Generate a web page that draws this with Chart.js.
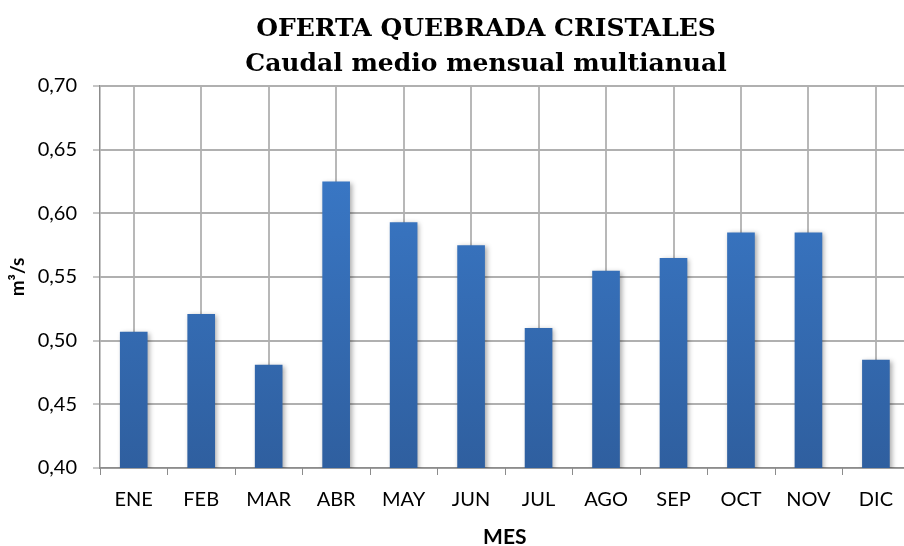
<!DOCTYPE html>
<html>
<head>
<meta charset="utf-8">
<script src="https://cdn.jsdelivr.net/npm/chart.js@4.4.1/dist/chart.umd.min.js"></script>
<style>
  html, body { margin: 0; padding: 0; background: #fff; overflow: hidden; }
  #wrap { position: relative; width: 913px; height: 546px; }
</style>
</head>
<body>
<div id="wrap"><canvas id="caudal"></canvas></div>
<script>
const meses = ["ENE", "FEB", "MAR", "ABR", "MAY", "JUN", "JUL", "AGO", "SEP", "OCT", "NOV", "DIC"];
const caudal = [0.507, 0.521, 0.481, 0.625, 0.593, 0.575, 0.510, 0.555, 0.565, 0.585, 0.585, 0.485];
const tituloLineas = ["OFERTA QUEBRADA CRISTALES", "Caudal medio mensual multianual"];
const yMin = 0.40, yMax = 0.70, yPaso = 0.05;

const fuente = "Lato, 'Open Sans', sans-serif";
const fuenteTitulo = "'DejaVu Serif', 'Liberation Serif', serif";

// gradient for the bars, top light blue -> bottom darker blue
function barGradient(context) {
    const chart = context.chart;
    const area = chart.chartArea;
    if (!area) return "#3a7ccc";
    const g = chart.ctx.createLinearGradient(0, area.top, 0, area.bottom);
    g.addColorStop(0, "#3c7ed0");
    g.addColorStop(1, "#2f5f9f");
    return g;
}

// title drawn by hand so it can sit off-centre like the original
const tituloPlugin = {
    id: "tituloPlugin",
    afterDraw(chart) {
        const ctx = chart.ctx;
        ctx.save();
        ctx.fillStyle = "#000";
        ctx.textAlign = "center";
        ctx.textBaseline = "alphabetic";
        ctx.font = "bold 25px " + fuenteTitulo;
        ctx.fillText(tituloLineas[0], 486, 36);
        ctx.fillText(tituloLineas[1], 486, 71);
        ctx.restore();
    }
};

// soft shadow behind the bars
const sombraPlugin = {
    id: "sombraPlugin",
    beforeDatasetsDraw(chart) {
        const ctx = chart.ctx;
        ctx.save();
        ctx.shadowColor = "rgba(0,0,0,0.35)";
        ctx.shadowBlur = 5;
        ctx.shadowOffsetX = 2;
        ctx.shadowOffsetY = 1;
    },
    afterDatasetsDraw(chart) {
        chart.ctx.restore();
    }
};

// x tick marks sit between categories, gridlines go through the bars
const marcasX = {
    id: "marcasX",
    afterDraw(chart) {
        const x = chart.scales.x;
        const ctx = chart.ctx;
        const paso = x.getPixelForValue(1) - x.getPixelForValue(0);
        ctx.save();
        ctx.strokeStyle = "#8c8c8c";
        ctx.lineWidth = 1;
        for (let i = 0; i <= meses.length; i++) {
            const px = Math.round(x.getPixelForValue(0) - paso / 2 + i * paso) + 0.5;
            ctx.beginPath();
            ctx.moveTo(px, chart.chartArea.bottom);
            ctx.lineTo(px, chart.chartArea.bottom + 7);
            ctx.stroke();
        }
        ctx.restore();
    }
};

new Chart(document.getElementById("caudal"), {
    type: "bar",
    data: {
        labels: meses,
        datasets: [{
            label: "Caudal",
            data: caudal,
            backgroundColor: barGradient,
            borderWidth: 0,
            barPercentage: 0.41,
            categoryPercentage: 1.0
        }]
    },
    options: {
        responsive: true,
        maintainAspectRatio: false,
        animation: false,
        layout: { padding: { top: 86, right: 0, bottom: 0, left: 0 } },
        plugins: {
            legend: { display: false },
            title: { display: false },
            tooltip: { enabled: false }
        },
        scales: {
            x: {
                offset: true,
                grid: {
                    offset: false,
                    color: "#b8b8b8",
                    lineWidth: 2,
                    drawTicks: false
                },
                border: { color: "#8c8c8c", width: 1.5 },
                ticks: {
                    color: "#000",
                    padding: 20,
                    font: { family: fuente, size: 20 }
                },
                title: {
                    display: true,
                    text: "MES",
                    color: "#000",
                    padding: { top: 0, bottom: -4 },
                    font: { family: fuente, size: 21, weight: "bold" }
                },
                afterFit(scale) { scale.height = 78; }
            },
            y: {
                min: yMin,
                max: yMax,
                grid: {
                    color: "#b0b0b0",
                    lineWidth: 2,
                    tickLength: 7,
                    tickColor: "#8c8c8c",
                    tickWidth: 1
                },
                border: { color: "#8c8c8c", width: 1.5 },
                ticks: {
                    stepSize: yPaso,
                    color: "#000",
                    padding: 16,
                    font: { family: fuente, size: 20 },
                    callback: v => v.toFixed(2).replace(".", ",")
                },
                title: {
                    display: true,
                    text: "m³/s",
                    color: "#000",
                    padding: { top: 6, bottom: 0 },
                    font: { family: fuente, size: 19, weight: "bold" }
                },
                afterFit(scale) { scale.width = 100; }
            }
        }
    },
    plugins: [sombraPlugin, marcasX, tituloPlugin]
});
</script>
</body>
</html>
